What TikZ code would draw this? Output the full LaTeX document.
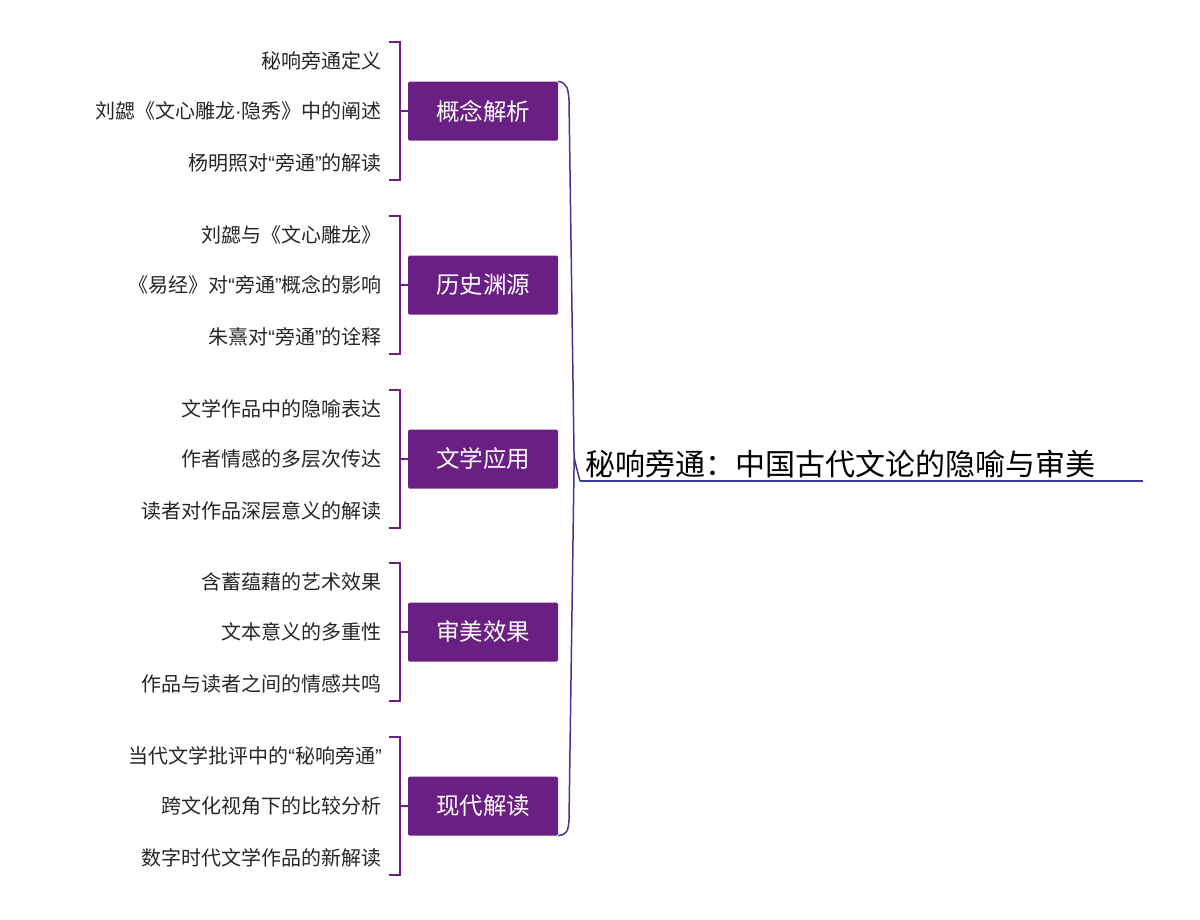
\documentclass[tikz,border=0pt]{standalone}
\usepackage{fontspec}
\setmainfont{Noto Sans CJK SC}
\newfontfamily\latf{Liberation Sans}
\newcommand{\myLq}{{\latf “}}
\newcommand{\myRq}{{\latf ”}}
\newcommand{\myMd}{{\latf ·}}
\begin{document}
\begin{tikzpicture}[x=1pt,y=-1pt,
  cat/.style={fill=catc,rounded corners=1.5pt,minimum width=150pt,minimum height=59pt,text=white,font=\fontsize{23.5}{28}\selectfont,inner sep=0pt},
  leaf/.style={anchor=east,font=\fontsize{20}{24}\selectfont,text=black!85,inner sep=0pt},
  brk/.style={draw=catc,line width=1.5pt},
  root/.style={font=\fontsize{30}{36}\selectfont,anchor=south west,inner sep=0pt}]
\definecolor{catc}{HTML}{6A1F82}
\definecolor{bluec}{HTML}{3A3A9A}
\useasboundingbox (0,0) rectangle (1200,919);
\def\cats{概念解析/111/秘响旁通定义/刘勰《文心雕龙\myMd 隐秀》中的阐述/杨明照对\myLq 旁通\myRq 的解读,
历史渊源/285/刘勰与《文心雕龙》/《易经》对\myLq 旁通\myRq 概念的影响/朱熹对\myLq 旁通\myRq 的诠释,
文学应用/459/文学作品中的隐喻表达/作者情感的多层次传达/读者对作品深层意义的解读,
审美效果/632/含蓄蕴藉的艺术效果/文本意义的多重性/作品与读者之间的情感共鸣,
现代解读/806/当代文学批评中的\myLq 秘响旁通\myRq/跨文化视角下的比较分析/数字时代文学作品的新解读}
\foreach \t/\y/\a/\b/\c [count=\i] in \cats {
  \node[cat] (c\i) at (483,\y) {\t};
  \node[leaf] (l\i a) at (382,\y-50) {\a};
  \node[leaf] (l\i b) at (382,\y) {\b};
  \node[leaf] (l\i c) at (382,\y+52) {\c};
  \coordinate (t\i) at (400,\y-69);
  \coordinate (m\i) at (400,\y);
  \coordinate (b\i) at (400,\y+69);
  \draw[brk] (389,\y-69) -- (t\i) -- (b\i) -- (389,\y+69);
  \draw[brk] (m\i) -- (c\i.west);
}
\node[root] (r) at (585,478) {秘响旁通：中国古代文论的隐喻与审美};
\coordinate (rl) at (580,481);
\draw[bluec,line width=1.5pt] (rl) -- (1143,481);
\draw[bluec,line width=1.5pt] (c1.north east) .. controls (568,83) and (568,90) .. (569,100)
  -- (574,452) .. controls (574,458) .. (rl)
  (574,452) .. controls (574,460) .. (574,470) -- (569,820) .. controls (568,832) and (567,834) .. (c5.south east);
\end{tikzpicture}
\end{document}
